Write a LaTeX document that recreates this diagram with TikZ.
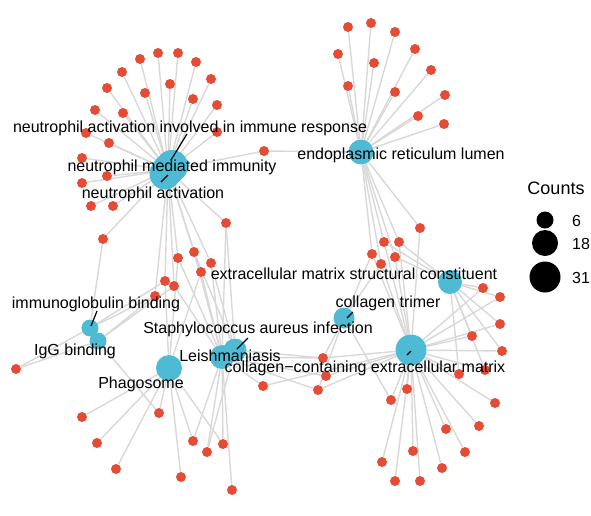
\documentclass[tikz,border=0pt]{standalone}
\usepackage{fontspec}
\setmainfont{Liberation Sans}
\usepackage{tikz}
\usetikzlibrary{backgrounds}
\definecolor{genered}{RGB}{228,76,54}
\definecolor{termblue}{RGB}{78,186,212}
\definecolor{edgegray}{RGB}{218,215,215}

\begin{document}
\begin{tikzpicture}[x=1pt, y=-1pt, semithick]
\tikzstyle{gene}=[circle, fill=genered, inner sep=0pt, minimum size=10pt]
\tikzstyle{term}=[circle, fill=termblue, inner sep=0pt]
\tikzstyle{link}=[draw=edgegray, line width=1.4pt]
\tikzstyle{lbl}=[anchor=mid, inner sep=0pt, yshift=-3.5pt, font=\fontsize{16}{19}\selectfont]
\tikzstyle{leader}=[draw=black, line width=1.2pt]
\tikzstyle{countdot}=[circle, fill=black, inner sep=0pt]
  \useasboundingbox (0,0) rectangle (591,515);
  % terms
  \node[term, minimum size=32pt] (nai) at (172,166) {};
  \node[term, minimum size=32pt] (nmi) at (168,170) {};
  \node[term, minimum size=31pt] (nac) at (165,174) {};
  \node[term, minimum size=25pt] (er) at (361,152) {};
  \node[term, minimum size=24pt] (ecms) at (450,282) {};
  \node[term, minimum size=21pt] (ctr) at (344,318) {};
  \node[term, minimum size=31pt] (cecm) at (411,350) {};
  \node[term, minimum size=17pt] (igb) at (90,328) {};
  \node[term, minimum size=17pt] (igg) at (98,341) {};
  \node[term, minimum size=26pt] (pha) at (169,368) {};
  \node[term, minimum size=24pt] (lei) at (222,357) {};
  \node[term, minimum size=23pt] (sau) at (235,350) {};
  %
  % genes
  \foreach \g/\x/\y in {1/158/53, 2/178/53, 3/140/59, 4/196/62, 5/122/72,
      6/211/79, 7/170/84, 8/107/88, 9/145/93, 10/193/99, 11/217/105,
      12/95/110, 13/123/113, 14/86/133, 15/217/132, 16/109/143, 17/82/158,
      18/107/176, 19/82/183, 20/91/206, 21/113/206, 22/264/151, 23/226/223,
      24/103/239, 25/178/258, 26/194/252, 27/211/263, 28/201/272,
      29/165/281, 30/174/286, 31/155/296}
    \node[gene] (n\g) at (\x,\y) {};
  \foreach \g/\x/\y in {1/348/27, 2/371/23, 3/395/32, 4/338/54, 5/415/49,
      6/374/63, 7/431/70, 8/348/86, 9/395/92, 10/445/95, 11/418/116,
      12/444/124, 13/420/228, 14/384/242, 15/399/242, 16/372/254,
      17/395/257, 18/381/264}
    \node[gene] (e\g) at (\x,\y) {};
  \foreach \g/\x/\y in {1/483/288, 2/500/297, 3/500/324, 4/472/336,
      5/502/351, 6/485/370, 7/459/374, 8/323/358, 9/326/376, 10/318/390,
      11/391/400, 12/407/389, 13/495/403, 14/479/426, 15/446/429,
      16/465/452, 17/413/451, 18/382/462, 19/442/468, 20/395/481,
      21/420/481}
    \node[gene] (c\g) at (\x,\y) {};
  \foreach \g/\x/\y in {1/16/369, 2/263/386, 3/82/417, 4/159/413, 5/97/443,
      6/193/441, 7/207/452, 8/223/444, 9/116/469, 10/181/477, 11/232/490}
    \node[gene] (p\g) at (\x,\y) {};
  %
  % links
  \begin{pgfonlayer}{background}
    \foreach \g in {1,...,31} \draw[link] (n\g) -- (nmi);
    \foreach \g in {1,...,18} \draw[link] (e\g) -- (er);
    \foreach \g in {1,...,21} \draw[link] (c\g) -- (cecm);
    \foreach \a/\b in {n22/er, n23/sau, n23/lei, n24/igb, n25/pha, n25/lei,
        n26/lei, n26/sau, n27/sau, n27/lei, n28/lei, n28/pha, n29/igb,
        n29/pha, n30/igg, n30/lei, n31/igb, n31/igg,
        e13/cecm, e14/ecms, e14/cecm, e15/ecms, e15/cecm, e16/cecm, e16/ctr,
        e17/ecms, e17/cecm, e18/ctr, e18/cecm,
        c1/ecms, c2/ecms, c3/ecms, c4/ecms, c5/ecms, c6/ecms, c7/ecms,
        c8/sau, c8/lei, c8/ctr, c9/lei, c10/ctr, c10/lei, c11/ctr,
        p1/igb, p1/igg, p2/lei, p2/cecm, p3/pha, p4/pha, p4/igg, p5/pha,
        p6/pha, p6/lei, p7/lei, p7/sau, p8/lei, p8/pha, p9/pha, p10/pha,
        p11/lei}
      \draw[link] (\a) -- (\b);
  \end{pgfonlayer}
  %
  % labels
  \node[lbl] (nail) at (190,126) {neutrophil activation involved in immune response};
  \node[lbl] (nmil) at (172,165) {neutrophil mediated immunity};
  \node[lbl] (nacl) at (153,192) {neutrophil activation};
  \node[lbl] (erl) at (401,153) {endoplasmic reticulum lumen};
  \node[lbl] (ecmsl) at (354,273) {extracellular matrix structural constituent};
  \node[lbl] (ctrl) at (388,301) {collagen trimer};
  \node[lbl] (saul) at (258,327) {Staphylococcus aureus infection};
  \node[lbl] (leil) at (230,355) {Leishmaniasis};
  \node[lbl] (cecml) at (365,366) {collagen\textminus containing extracellular matrix};
  \node[lbl] (igbl) at (96,302) {immunoglobulin binding};
  \node[lbl] (iggl) at (75,349) {IgG binding};
  \node[lbl] (phal) at (141,382) {Phagosome};
  %
  \coordinate (a1) at (187,134); \coordinate (b1) at (171,160);
  \coordinate (a2) at (168,175); \coordinate (b2) at (161,182);
  \coordinate (a3) at (97,311);  \coordinate (b3) at (91,326);
  \coordinate (a4) at (248,338); \coordinate (b4) at (237,349);
  \coordinate (a5) at (353,312); \coordinate (b5) at (347,318);
  \coordinate (a6) at (411,351); \coordinate (b6) at (407,355);
  \foreach \i in {1,...,6} \draw[leader] (a\i) -- (b\i);
  %
  % legend
  \node[lbl, font=\fontsize{18}{21}\selectfont] (cnt) at (556,188) {Counts};
  \node[countdot, minimum size=17pt] (k6) at (545,220) {};
  \node[countdot, minimum size=26pt] (k18) at (545,243) {};
  \node[countdot, minimum size=31pt] (k31) at (545,277) {};
  \node[lbl, anchor=mid west] (k6l) at (572,220) {6};
  \node[lbl, anchor=mid west] (k18l) at (572,243) {18};
  \node[lbl, anchor=mid west] (k31l) at (572,277) {31};
\end{tikzpicture}
\end{document}
